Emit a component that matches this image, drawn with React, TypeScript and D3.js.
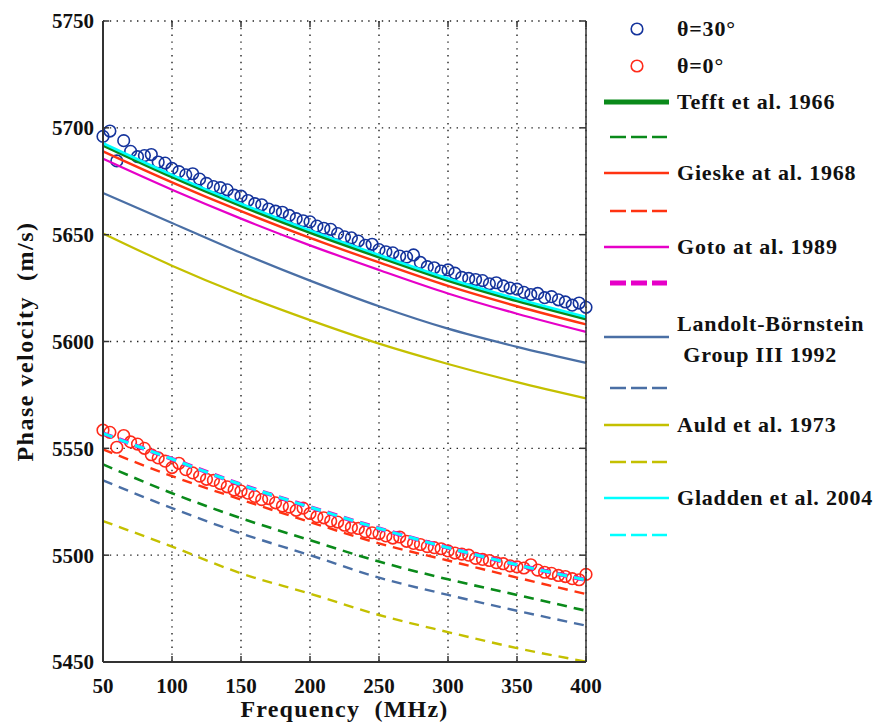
import * as d3 from "d3";

// frequency grid (MHz) for the model curves
const curveFreqs = [50, 100, 150, 200, 250, 300, 350, 400];
const freqTicks = [50, 100, 150, 200, 250, 300, 350, 400];
const velocityTicks = [5450, 5500, 5550, 5600, 5650, 5700, 5750];

// solid curves (theta = 30 deg)
const tefftSolid = [5691.8, 5677, 5663.5, 5651, 5639.5, 5628.5, 5619, 5610.5];
const gieskeSolid = [5689, 5674.5, 5661, 5648.5, 5637, 5626, 5616.5, 5608];
const gotoSolid = [5685.5, 5671, 5657.5, 5645, 5633.5, 5622.5, 5613, 5604.5];
const landoltSolid = [5669.5, 5655.5, 5641.5, 5628.5, 5616.5, 5606, 5597.5, 5590];
const auldSolid = [5650.6, 5635.5, 5622, 5610, 5599, 5589.5, 5581, 5573.4];
const gladdenSolid = [5692.8, 5678, 5664.5, 5652, 5640.5, 5629.5, 5620, 5611.5];

// dashed curves (theta = 0 deg)
const tefftDashed = [5542.5, 5529, 5517.3, 5507, 5497, 5488.7, 5481.4, 5474];
const gieskeDashed = [5549.5, 5537, 5526, 5515.5, 5505.5, 5497.5, 5489.5, 5481.8];
const gotoDashed = [5557, 5545, 5533, 5522.5, 5512.5, 5503.5, 5495.5, 5488.4];
const landoltDashed = [5535, 5522, 5510.2, 5500, 5489.5, 5481.4, 5474, 5467];
const auldDashed = [5516, 5504, 5491.5, 5482, 5472, 5464, 5456.5, 5450.2];
const gladdenDashed = [5557, 5545, 5533, 5522.5, 5512.5, 5503.5, 5495.5, 5488.4];

// measured points every 5 MHz from 50 to 400
const pointFreqs = d3.range(50, 401, 5);
const theta30 = [
  5696, 5698.5, 5684.5, 5694, 5689, 5686.5, 5687, 5687.5, 5684, 5683.5,
  5681, 5679.5, 5678, 5678.5, 5676, 5674, 5672.5, 5672, 5671, 5668.5,
  5668, 5666, 5664.5, 5664, 5662, 5661, 5660.5, 5659, 5657.5, 5656.5,
  5656, 5654, 5653, 5652.5, 5650.5, 5649, 5648.5, 5647, 5645, 5645.5,
  5643, 5642, 5641.5, 5640, 5639.5, 5640.5, 5637, 5635, 5634.5, 5633,
  5633.5, 5632, 5630, 5629.5, 5629, 5628.5, 5627, 5627.5, 5626, 5625,
  5624.5, 5623, 5622, 5622.5, 5620.5, 5621, 5619.5, 5618.5, 5617, 5618,
  5616,
];
const theta0 = [
  5558.5, 5557.5, 5550.5, 5556, 5553, 5552, 5550, 5547, 5545.5, 5544,
  5541, 5543, 5540, 5538.5, 5537, 5535.5, 5535, 5533.5, 5532, 5530.5,
  5530, 5529, 5527.5, 5526, 5526.5, 5524.5, 5523, 5522.5, 5521, 5522,
  5519.5, 5518, 5517.5, 5516, 5515.5, 5514, 5513, 5512.5, 5511, 5510.5,
  5510, 5509, 5508, 5508.5, 5506.5, 5505.5, 5505, 5504, 5503.5, 5503,
  5502, 5501, 5500.5, 5500, 5498.5, 5498, 5497.5, 5496.5, 5496, 5495,
  5494.5, 5494, 5495.5, 5493, 5492, 5491.5, 5490.5, 5490, 5489, 5488.5,
  5491,
];

const GREEN = "#0a8a1a";
const RED = "#ff3311";
const MAGENTA = "#e600c8";
const STEEL = "#4a6fa5";
const OLIVE = "#c4c000";
const CYAN = "#00ffff";
const NAVY = "#14339c";
const CIRCLE_RED = "#ff2a1a";

const solidCurves = [
  { values: landoltSolid, color: STEEL, width: 2.2 },
  { values: auldSolid, color: OLIVE, width: 2.2 },
  { values: gotoSolid, color: MAGENTA, width: 2.2 },
  { values: gieskeSolid, color: RED, width: 2.4 },
  { values: tefftSolid, color: GREEN, width: 3 },
  { values: gladdenSolid, color: CYAN, width: 2.6 },
];

const dashedCurves = [
  { values: landoltDashed, color: STEEL, width: 2.4 },
  { values: auldDashed, color: OLIVE, width: 2.4 },
  { values: tefftDashed, color: GREEN, width: 2.6 },
  { values: gieskeDashed, color: RED, width: 2.4 },
  { values: gotoDashed, color: MAGENTA, width: 4.2 },
  { values: gladdenDashed, color: CYAN, width: 3 },
];

const legendRows = [
  { y: 29, kind: "circle", color: NAVY, label: ["θ=30°"] },
  { y: 66, kind: "circle", color: CIRCLE_RED, label: ["θ=0°"] },
  { y: 102, kind: "solid", color: GREEN, width: 5, label: ["Tefft et al. 1966"] },
  { y: 137, kind: "dash", color: GREEN, width: 2.6, label: [] },
  { y: 173, kind: "solid", color: RED, width: 2.6, label: ["Gieske at al. 1968"] },
  { y: 211, kind: "dash", color: RED, width: 2.6, label: [] },
  { y: 247, kind: "solid", color: MAGENTA, width: 2.6, label: ["Goto at al. 1989"] },
  { y: 283, kind: "dash", color: MAGENTA, width: 5, label: [] },
  { y: 337, kind: "solid", color: STEEL, width: 2.6, label: ["Landolt-Börnstein", " Group III 1992"] },
  { y: 388, kind: "dash", color: STEEL, width: 2.6, label: [] },
  { y: 425, kind: "solid", color: OLIVE, width: 2.6, label: ["Auld et al. 1973"] },
  { y: 462, kind: "dash", color: OLIVE, width: 2.6, label: [] },
  { y: 498, kind: "solid", color: CYAN, width: 2.6, label: ["Gladden et al. 2004"] },
  { y: 535, kind: "dash", color: CYAN, width: 2.6, label: [] },
];

const FONT = "'Liberation Serif', 'Times New Roman', serif";

const App = () => {
  const left = 103;
  const right = 586;
  const top = 21;
  const bottom = 662;

  const x = d3.scaleLinear().domain([50, 400]).range([left, right]);
  const y = d3.scaleLinear().domain([5450, 5750]).range([bottom, top]);

  const line = d3
    .line<number>()
    .x((d, i) => x(curveFreqs[i]))
    .y((d) => y(d))
    .curve(d3.curveMonotoneX);

  const tickLen = 6;

  return (
    <svg
      width={883}
      height={725}
      style={{ position: "absolute", left: 0, top: 0, background: "#fff" }}
    >
      {/* grid */}
      <g stroke="#222" strokeWidth={1.4} strokeDasharray="1.4 5.4">
        {freqTicks.map((t) => (
          <line key={"gx" + t} x1={x(t)} x2={x(t)} y1={top} y2={bottom} />
        ))}
        {velocityTicks.map((t) => (
          <line key={"gy" + t} x1={left} x2={right} y1={y(t)} y2={y(t)} />
        ))}
      </g>

      {/* measured points */}
      <g fill="none" strokeWidth={1.6}>
        {theta30.map((v, i) => (
          <circle key={"b" + i} cx={x(pointFreqs[i])} cy={y(v)} r={5.8} stroke={NAVY} />
        ))}
        {theta0.map((v, i) => (
          <circle key={"r" + i} cx={x(pointFreqs[i])} cy={y(v)} r={5.8} stroke={CIRCLE_RED} />
        ))}
      </g>

      {/* model curves */}
      <g fill="none">
        {solidCurves.map((c, i) => (
          <path key={"s" + i} d={line(c.values) || ""} stroke={c.color} strokeWidth={c.width} />
        ))}
        {dashedCurves.map((c, i) => (
          <path
            key={"d" + i}
            d={line(c.values) || ""}
            stroke={c.color}
            strokeWidth={c.width}
            strokeDasharray="10 7"
          />
        ))}
      </g>

      {/* axes frame */}
      <g stroke="#333" fill="none">
        <line x1={left} x2={left} y1={top} y2={bottom} strokeWidth={2} />
        <line x1={left} x2={right} y1={bottom} y2={bottom} strokeWidth={2} />
        <line x1={right} x2={right} y1={top} y2={bottom} strokeWidth={1.5} />
        {freqTicks.map((t) => (
          <g key={"tx" + t}>
            <line x1={x(t)} x2={x(t)} y1={bottom} y2={bottom - tickLen} strokeWidth={1.5} />
            <line x1={x(t)} x2={x(t)} y1={top} y2={top + tickLen} strokeWidth={1.5} />
          </g>
        ))}
        {velocityTicks.map((t) => (
          <g key={"ty" + t}>
            <line x1={left} x2={left + tickLen} y1={y(t)} y2={y(t)} strokeWidth={1.5} />
            <line x1={right} x2={right - tickLen} y1={y(t)} y2={y(t)} strokeWidth={1.5} />
          </g>
        ))}
      </g>

      {/* tick labels */}
      <g fontFamily={FONT} fontWeight="bold" fontSize={21} fill="#111">
        {velocityTicks.map((t) => (
          <text key={"ly" + t} x={left - 9} y={y(t)} dy="0.35em" textAnchor="end">
            {t}
          </text>
        ))}
        {freqTicks.map((t) => (
          <text key={"lx" + t} x={x(t)} y={693} textAnchor="middle">
            {t}
          </text>
        ))}
      </g>

      {/* axis titles */}
      <text
        x={(left + right) / 2}
        y={717}
        textAnchor="middle"
        fontFamily={FONT}
        fontWeight="bold"
        fontSize={24}
        letterSpacing={1.2}
        fill="#111"
        style={{ whiteSpace: "pre" }}
      >
        {"Frequency  (MHz)"}
      </text>
      <text
        transform={`translate(33, ${(top + bottom) / 2}) rotate(-90)`}
        textAnchor="middle"
        fontFamily={FONT}
        fontWeight="bold"
        fontSize={24}
        letterSpacing={1.5}
        fill="#111"
        style={{ whiteSpace: "pre" }}
      >
        {"Phase velocity  (m/s)"}
      </text>

      {/* legend */}
      <g fontFamily={FONT} fontWeight="bold" fontSize={22} fill="#111">
        {legendRows.map((r, i) => (
          <g key={"lg" + i}>
            {r.kind === "circle" && (
              <circle cx={637} cy={r.y} r={5.8} fill="none" stroke={r.color} strokeWidth={1.6} />
            )}
            {r.kind === "solid" && (
              <line x1={604} x2={669} y1={r.y} y2={r.y} stroke={r.color} strokeWidth={r.width} />
            )}
            {r.kind === "dash" && (
              <line
                x1={610}
                x2={667}
                y1={r.y}
                y2={r.y}
                stroke={r.color}
                strokeWidth={r.width}
                strokeDasharray="16 5"
              />
            )}
            {r.label.map((s, j) => (
              <text
                key={j}
                x={677}
                y={r.label.length > 1 ? r.y - 6 + j * 31 : r.y + 7}
                letterSpacing={0.8}
                style={{ whiteSpace: "pre" }}
              >
                {s}
              </text>
            ))}
          </g>
        ))}
      </g>
    </svg>
  );
};

export default App;
